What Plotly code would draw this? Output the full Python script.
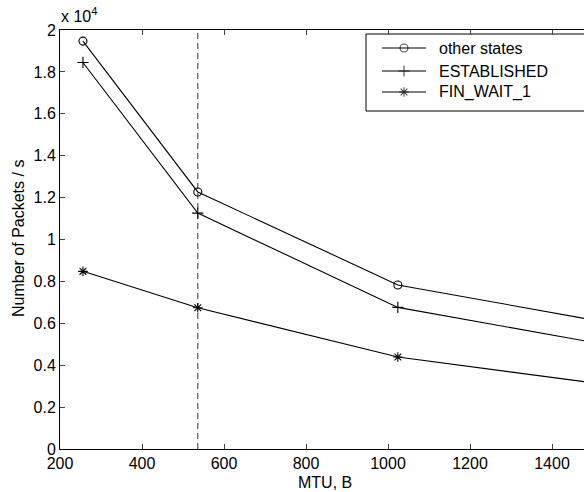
import plotly.graph_objects as go

mtu = [256, 536, 1024, 1500]
other_states = [19470, 12270, 7830, 6160]
established = [18450, 11260, 6760, 5090]
fin_wait_1 = [8480, 6740, 4390, 3160]

x_ticks = [200, 400, 600, 800, 1000, 1200, 1400]
y_tickvals = [0, 2000, 4000, 6000, 8000, 10000, 12000, 14000, 16000, 18000, 20000]
y_ticktext = ["0", "0.2", "0.4", "0.6", "0.8", "1", "1.2", "1.4", "1.6", "1.8", "2"]
vline_x = 536

FONT = "Liberation Sans, Arial, sans-serif"
W, H = 584, 492
L, R, T, B = 60, 0, 30, 43
PW, PH = W - L - R, H - T - B


def px(xp):
    return (xp - L) / PW


def py(yp):
    return (H - B - yp) / PH


fig = go.Figure()
series = [
    ("other states", other_states, "circle-open"),
    ("ESTABLISHED", established, "cross-thin-open"),
    ("FIN_WAIT_1", fin_wait_1, "asterisk-open"),
]
for name, ys, sym in series:
    fig.add_trace(go.Scatter(
        x=mtu, y=ys, name=name, mode="lines+markers", showlegend=False,
        line=dict(color="black", width=1.1),
        marker=dict(symbol=sym, size=8, color="black", line=dict(color="black", width=1.1)),
    ))

# legend drawn in an overlay axis whose units are pixels
leg_rows = [48, 71, 92]
shapes = [
    dict(type="line", x0=vline_x, x1=vline_x, xref="x", y0=0, y1=1, yref="paper",
         line=dict(color="#555", width=1.2, dash="6px,4px"), layer="below"),
    dict(type="rect", xref="paper", yref="paper", x0=px(366), x1=px(620),
         y0=py(111), y1=py(34), line=dict(color="black", width=1), fillcolor="white",
         layer="below"),
]
annotations = []
for (name, ys, sym), yr in zip(series, leg_rows):
    fig.add_trace(go.Scatter(
        x=[382, 404, 426], y=[H - yr] * 3, xaxis="x2", yaxis="y2", showlegend=False,
        mode="lines+markers", line=dict(color="black", width=1.1),
        marker=dict(symbol=sym, size=[0, 8, 0], color="black", line=dict(color="black", width=1.1)),
        hoverinfo="skip", cliponaxis=False,
    ))
    annotations.append(dict(text=name, x=px(437), y=py(yr), xanchor="left", yanchor="middle",
                            xref="paper", yref="paper", showarrow=False, font=dict(size=16)))

annotations += [
    dict(text="MTU, B", x=px(325), y=py(483), xanchor="center", yanchor="middle",
         xref="paper", yref="paper", showarrow=False, font=dict(size=16)),
    dict(text="x 10<sup>4</sup>", x=px(59), y=py(27), xanchor="left", yanchor="bottom",
         xref="paper", yref="paper", showarrow=False, font=dict(size=16)),
    dict(text="Number of Packets / s", x=px(18), y=py(239), xanchor="center", yanchor="middle",
         textangle=-90, xref="paper", yref="paper", showarrow=False, font=dict(size=16)),
]

fig.update_layout(
    width=W, height=H,
    margin=dict(l=L, r=R, t=T, b=B),
    paper_bgcolor="white", plot_bgcolor="white",
    font=dict(family=FONT, size=16, color="black"),
    showlegend=False,
    xaxis=dict(range=[200, 1478], tickvals=x_ticks, ticks="inside", ticklen=5,
               showline=True, linecolor="black", linewidth=1, mirror="ticks",
               showgrid=False, zeroline=False, tickfont=dict(size=16)),
    yaxis=dict(range=[0, 20000], tickvals=y_tickvals, ticktext=y_ticktext,
               ticks="inside", ticklen=5, showline=True, linecolor="black", linewidth=1,
               mirror=False, showgrid=False, zeroline=False, tickfont=dict(size=16)),
    xaxis2=dict(overlaying="x", range=[L, W], visible=False, fixedrange=True),
    yaxis2=dict(overlaying="y", range=[B, H - T], visible=False, fixedrange=True),
    shapes=shapes,
    annotations=annotations,
)

fig.write_html("out.html")
